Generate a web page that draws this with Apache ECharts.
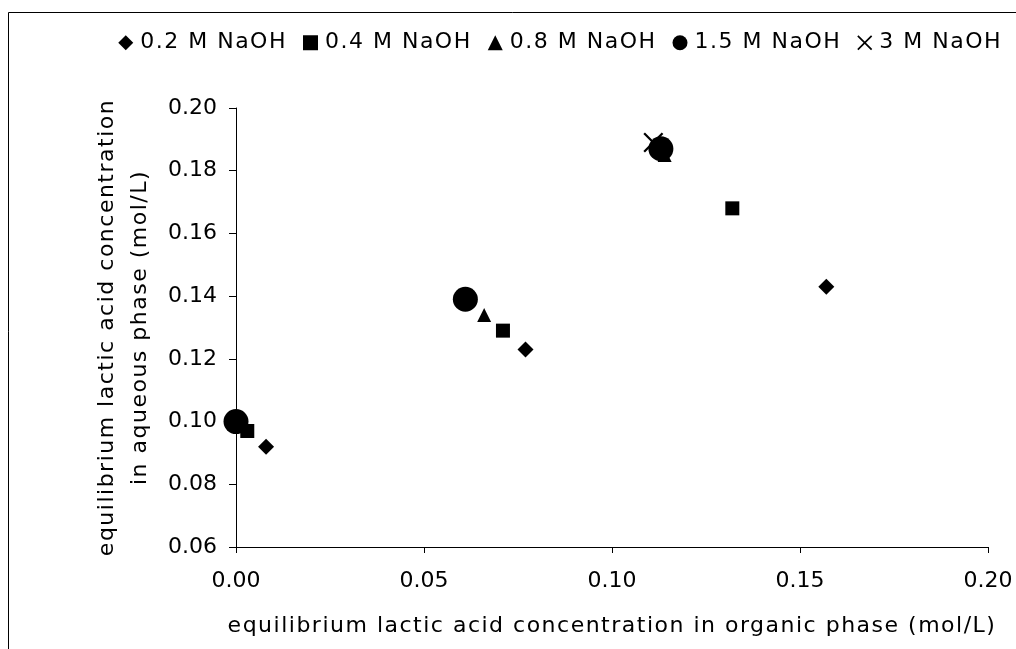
<!DOCTYPE html>
<html>
<head>
<meta charset="utf-8">
<script src="https://cdn.jsdelivr.net/npm/echarts@6/dist/echarts.min.js"></script>
<style>
  html, body { margin: 0; padding: 0; background: #fff; }
  #chart { width: 1016px; height: 649px; }
</style>
</head>
<body>
<div id="chart"></div>
<script>
// Equilibrium lactic acid concentrations: [organic phase, aqueous phase] in mol/L
const naoh02 = [[0.008, 0.092], [0.077, 0.123], [0.157, 0.143]];
const naoh04 = [[0.003, 0.097], [0.071, 0.129], [0.132, 0.168]];
const naoh08 = [[0.000, 0.100], [0.066, 0.134], [0.114, 0.185]];
const naoh15 = [[0.000, 0.100], [0.061, 0.139], [0.113, 0.187]];
const naoh3  = [[0.111, 0.189]];

const seriesNames = ['0.2 M NaOH', '0.4 M NaOH', '0.8 M NaOH', '1.5 M NaOH', '3 M NaOH'];
const xTicks = { min: 0, max: 0.20, interval: 0.05 };
const yTicks = { min: 0.06, max: 0.20, interval: 0.02 };

// Tick labels use plain DejaVu Sans; legend and axis titles use the "wide" stack,
// which is drawn with a little extra tracking between letters.
const FONT = 'DejaVu Sans';
const WIDE_FONT = 'DejaVu Sans, Verdana';
const WIDE_TRACKING = 1.5;
const FONT_SIZE = 22;

const measureCtx = document.createElement('canvas').getContext('2d');
function trackingFor(font) { return /Verdana/.test(font) ? WIDE_TRACKING : 0; }
echarts.setPlatformAPI({
  measureText(text, font) {
    measureCtx.font = font || '12px sans-serif';
    const m = measureCtx.measureText(text);
    return { width: m.width + trackingFor(measureCtx.font) * text.length };
  }
});
const baseFillText = CanvasRenderingContext2D.prototype.fillText;
CanvasRenderingContext2D.prototype.fillText = function (...args) {
  this.letterSpacing = trackingFor(this.font) + 'px';
  return baseFillText.apply(this, args);
};

// filled "×" outline so it can be drawn as a symbol
const crossPath = 'path://M0,0.8 L0.8,0 L10,9.2 L9.2,10 Z M9.2,0 L10,0.8 L0.8,10 L0,9.2 Z';
const black = '#000';

const chart = echarts.init(document.getElementById('chart'), null, { renderer: 'canvas' });

function mk(name, data, symbol, size) {
  return {
    name, type: 'scatter', data, symbol, symbolSize: size,
    itemStyle: { color: black, opacity: 1 },
    emphasis: { disabled: true },
    z: 3
  };
}

chart.setOption({
  animation: false,
  backgroundColor: '#fff',
  textStyle: { fontFamily: FONT },
  graphic: [{
    type: 'rect',
    shape: { x: 8.5, y: 12.5, width: 1200, height: 1000 },
    style: { fill: 'none', stroke: black, lineWidth: 1 },
    silent: true
  }],
  legend: {
    top: 26,
    right: 9,
    itemGap: 16,
    itemWidth: 15,
    itemHeight: 15,
    textStyle: { fontFamily: WIDE_FONT, fontSize: FONT_SIZE, color: black, padding: [0, 0, 0, 2] },
    data: [
      { name: seriesNames[0], icon: 'diamond' },
      { name: seriesNames[1], icon: 'rect' },
      { name: seriesNames[2], icon: 'triangle' },
      { name: seriesNames[3], icon: 'circle' },
      { name: seriesNames[4], icon: crossPath }
    ]
  },
  grid: { left: 236, right: 28, top: 108, bottom: 102, containLabel: false },
  xAxis: {
    type: 'value',
    min: xTicks.min, max: xTicks.max, interval: xTicks.interval,
    name: 'equilibrium lactic acid concentration in organic phase (mol/L)',
    nameLocation: 'middle',
    nameGap: 68,
    nameTextStyle: { fontFamily: WIDE_FONT, fontSize: FONT_SIZE, color: black },
    axisLine: { show: true, lineStyle: { color: black, width: 1 } },
    axisTick: { show: true, inside: false, length: 6, lineStyle: { color: black } },
    axisLabel: { fontFamily: FONT, fontSize: FONT_SIZE, color: black, margin: 23,
                 formatter: v => v.toFixed(2) },
    splitLine: { show: false }
  },
  yAxis: {
    type: 'value',
    min: yTicks.min, max: yTicks.max, interval: yTicks.interval,
    name: 'equilibrium lactic acid concentration\nin aqueous phase (mol/L)',
    nameLocation: 'middle',
    nameGap: 77,
    nameRotate: 90,
    nameTextStyle: { fontFamily: WIDE_FONT, fontSize: FONT_SIZE, color: black, lineHeight: 33 },
    axisLine: { show: true, lineStyle: { color: black, width: 1 } },
    axisTick: { show: true, inside: false, length: 7, lineStyle: { color: black } },
    axisLabel: { fontFamily: FONT, fontSize: FONT_SIZE, color: black, margin: 19,
                 formatter: v => v.toFixed(2) },
    splitLine: { show: false }
  },
  series: [
    mk(seriesNames[0], naoh02, 'diamond', 16),
    mk(seriesNames[1], naoh04, 'rect', 14),
    mk(seriesNames[2], naoh08, 'triangle', 14),
    mk(seriesNames[3], naoh15, 'circle', 25),
    mk(seriesNames[4], naoh3, crossPath, 20)
  ]
});
</script>
</body>
</html>
